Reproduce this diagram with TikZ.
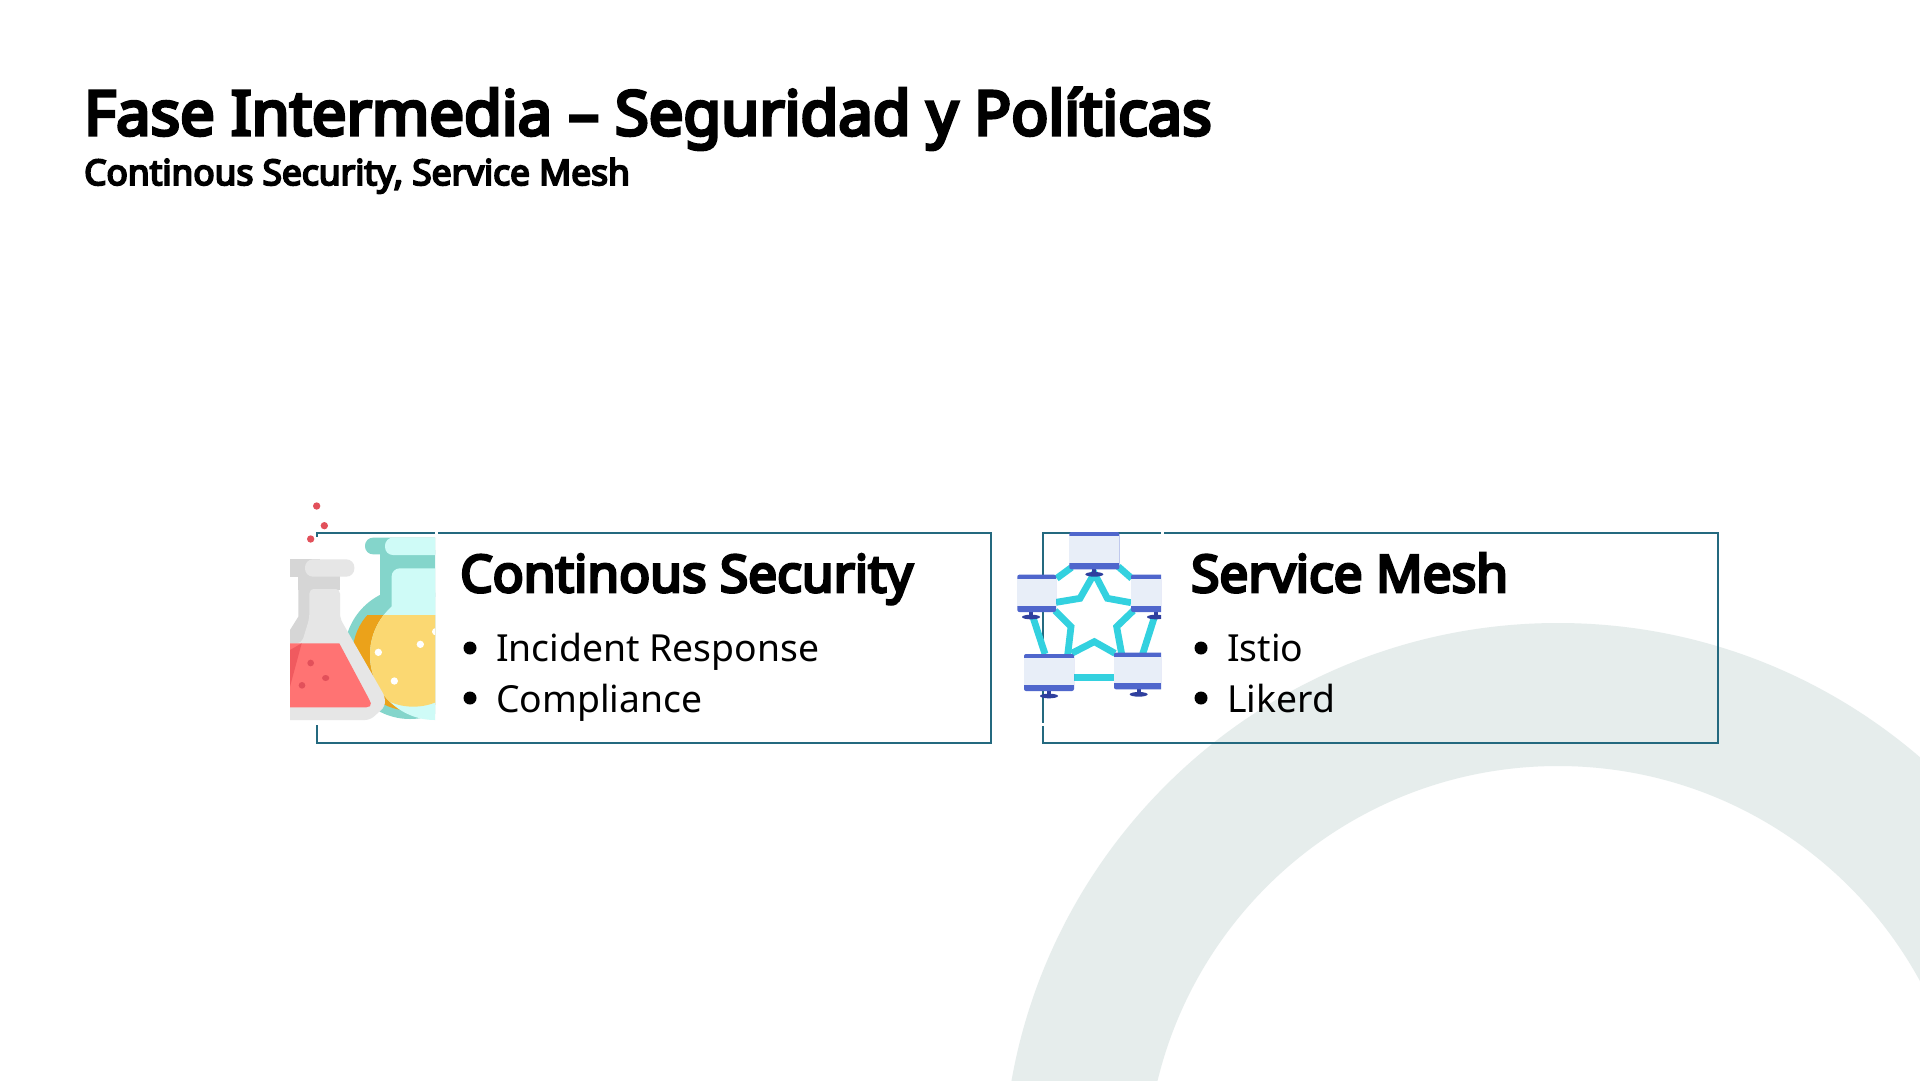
\documentclass[tikz,border=0pt]{standalone}
\usepackage{fontspec}
\setmainfont{Noto Sans}
\newfontfamily\headfont{Noto Sans}[FakeBold=5.5]
\definecolor{ringc}{HTML}{E6EDEC}
\definecolor{edgec}{HTML}{24697F}
\definecolor{tealc}{HTML}{84D5CB}
\definecolor{icec}{HTML}{CFFBF7}
\definecolor{yelc}{HTML}{FBD872}
\definecolor{orac}{HTML}{EBA21A}
\definecolor{gra}{HTML}{D6D6D6}
\definecolor{grb}{HTML}{E6E6E6}
\definecolor{reda}{HTML}{FF7373}
\definecolor{redb}{HTML}{F05A5F}
\definecolor{redc}{HTML}{E2505A}
\definecolor{panel}{HTML}{E8EEF8}
\definecolor{barc}{HTML}{4F66CC}
\definecolor{stand}{HTML}{2F3F9E}
\definecolor{cyanl}{HTML}{33D1DF}
\tikzset{
  cardbox/.style={draw=edgec,line width=2.8pt,anchor=north west,inner sep=0pt,outer sep=0pt,minimum height=210pt},
  titletxt/.style={anchor=base west,inner sep=0pt,font=\headfont\fontsize{61.5}{62}\selectfont},
  subtxt/.style={anchor=base west,inner sep=0pt,font=\headfont\fontsize{35.3}{36}\selectfont},
  headtxt/.style={anchor=base west,inner sep=0pt,font=\headfont\fontsize{51.4}{52}\selectfont},
  itemtxt/.style={anchor=base west,inner sep=0pt,font=\fontsize{37.3}{37.3}\selectfont},
  bulletdot/.style={circle,fill=black,inner sep=0pt,minimum size=13pt},
  link/.style={cyanl,line width=6.8pt},
}
\newcommand{\monitor}[7]{%
  \fill[stand] (#5-6,#4-4) rectangle (#5+6,#4+14);
  \fill[stand] (#5,#4+15) ellipse [x radius=27,y radius=7];
  \fill[barc,rounded corners=2pt] (#1,#3) rectangle (#2,#4);
  \fill[panel] (#1,#6) rectangle (#2,#7);
}
\begin{document}
\begin{tikzpicture}[x=1pt,y=-1pt]
\useasboundingbox (0,0) rectangle (1920,1080);
\fill[white] (0,0) rectangle (1920,1080);
\begin{scope}
\clip (0,0) rectangle (1920,1080);
\fill[ringc,even odd rule] (1558,1178) circle [radius=555] (1558,1178) circle [radius=412];
\end{scope}
\node[titletxt] (title) at (84,135) {Fase Intermedia – Seguridad y Políticas};
\node[subtxt] (subtitle) at (84,185) {Continous Security, Service Mesh};
\node[cardbox,minimum width=674pt] (cardA) at (317,533) {};
\node[cardbox,minimum width=675pt] (cardB) at (1043,533) {};
\node[headtxt] (headA) at (460,592) {Continous Security};
\node[bulletdot] (bA1) at (470,648) {};
\node[itemtxt] (itemA1) at (496,661) {Incident Response};
\node[bulletdot] (bA2) at (470,698) {};
\node[itemtxt] (itemA2) at (496,712) {Compliance};
\node[headtxt] (headB) at (1191,592) {Service Mesh};
\node[bulletdot] (bB1) at (1201,648) {};
\node[itemtxt] (itemB1) at (1227,661) {Istio};
\node[bulletdot] (bB2) at (1201,698) {};
\node[itemtxt] (itemB2) at (1227,712) {Likerd};
% flask icon, zoom coordinates
\begin{scope}[shift={(270,490)},x=1pt/3,y=-1pt/3]
\fill[white] (60,140) rectangle (503,704);
\fill[white] (495,120) rectangle (503,140);
\begin{scope}
\clip (60,0) rectangle (495,700);
\fill[redc] (140,48) circle [radius=11] (163,107) circle [radius=11] (122,147) circle [radius=11];
\fill[tealc] (420,490) circle [radius=197];
\begin{scope}
\clip (0,375) rectangle (600,700);
\fill[orac] (420,490) circle [radius=172];
\end{scope}
\fill[tealc,rounded corners=8pt] (285,143) rectangle (560,193);
\fill[tealc] (330,180) rectangle (520,320);
\fill[icec,rounded corners=8pt] (345,143) rectangle (560,195);
\fill[icec] (495,495) circle [radius=195];
\fill[icec,rounded corners=8pt] (365,235) rectangle (560,420);
\begin{scope}
\clip (495,495) circle [radius=195];
\clip (0,375) rectangle (600,700);
\fill[yelc] (430,470) circle [radius=180];
\end{scope}
\fill[white] (325,487) circle [radius=11] (451,463) circle [radius=11] (373,573) circle [radius=11] (497,425) circle [radius=11];
% red flask
\fill[gra] (60,208) rectangle (150,260);
\fill[gra] (85,255) rectangle (210,300);
\fill[gra] (85,296) -- (130,296) -- (130,480) -- (60,480) -- (60,420) -- (85,380) -- cycle;
\fill[grb,rounded corners=8pt] (105,208) rectangle (253,260);
\fill[grb,rounded corners=5pt] (118,296) -- (210,296) -- (210,385) -- (345,620) -- (345,650) -- (300,690) -- (40,690) -- (40,460) -- (95,460) -- (118,385) -- cycle;
\fill[gra] (85,260) rectangle (210,296);
\fill[reda] (40,460) -- (208,460) -- (296,625) [rounded corners=2pt] -- (305,645) -- (295,652) -- (40,652) -- cycle;
\fill[redb] (60,480) -- (95,460) -- (60,590) -- cycle;
\fill[redb] (40,460) rectangle (60,480);
\fill[redc] (122,519) circle [radius=10] (96,586) circle [radius=10];
\fill[redc] (167,564) ellipse [x radius=11,y radius=9];
\end{scope}
\end{scope}
% mesh icon, zoom coordinates
\begin{scope}[shift={(1000,510)},x=1pt/3,y=-1pt/3]
\fill[white] (483,60) rectangle (492,78);
\fill[white] (120,640) rectangle (138,648);
\begin{scope}
\clip (0,0) rectangle (483,700);
\draw[link] (170,205) -- (215,172);
\draw[link] (395,205) -- (355,170);
\draw[link] (168,277) -- (240,265) -- (283,190) -- (322,265) -- (393,278);
\draw[link] (165,302) -- (213,350) -- (203,435);
\draw[link] (400,302) -- (350,350) -- (365,432);
\draw[link] (215,430) -- (283,395) -- (345,430);
\draw[link] (100,325) -- (135,432);
\draw[link] (462,325) -- (428,432);
\draw[cyanl,line width=7pt] (222,503) -- (342,503);
\monitor{208}{358}{66}{178}{283}{77}{160}
\monitor{52}{168}{194}{306}{93}{206}{288}
\monitor{393}{520}{194}{306}{468}{206}{288}
\monitor{72}{222}{432}{543}{147}{444}{525}
\monitor{342}{520}{428}{538}{416}{440}{520}
\end{scope}
\end{scope}
\end{tikzpicture}
\end{document}
